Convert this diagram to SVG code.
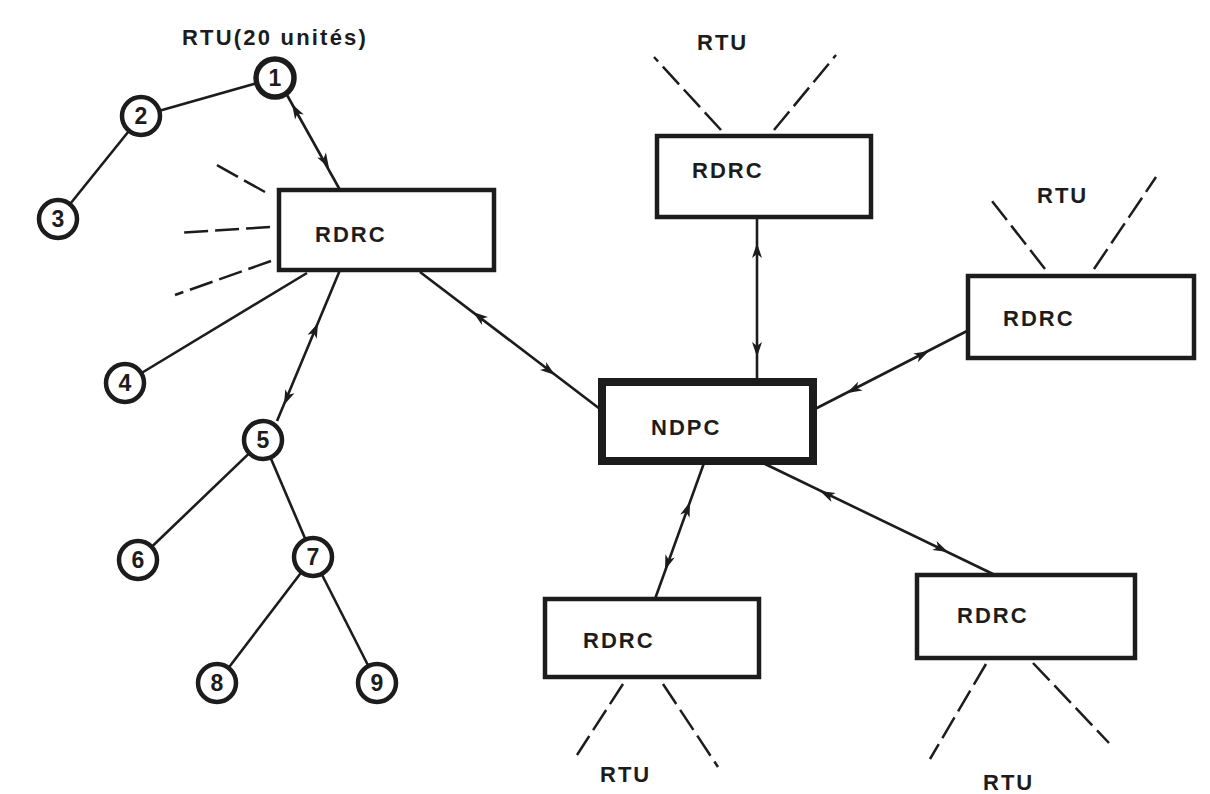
<svg xmlns="http://www.w3.org/2000/svg" xmlns:xlink="http://www.w3.org/1999/xlink" width="1210" height="794" viewBox="0 0 1210 794">
  <style>
    .box { fill: #fff; stroke: #1c1c1c; stroke-width: 4.5; }
    .hub { fill: #fff; stroke: #1c1c1c; stroke-width: 8; }
    .rtu { fill: #fff; stroke: #1c1c1c; stroke-width: 4.5; }
    .link { fill: none; stroke: #1c1c1c; stroke-width: 2.6; }
    .dash { fill: none; stroke: #1c1c1c; stroke-width: 2.5; stroke-dasharray: 24 7; }
    .lbl { font-family: "Liberation Sans", Arial, sans-serif; font-size: 22px; font-weight: bold; letter-spacing: 2px; fill: #1c1c1c; }
    .num { font-family: "Liberation Sans", Arial, sans-serif; font-size: 23px; font-weight: bold; fill: #1c1c1c; text-anchor: middle; }
  </style>
  <defs>
    <!-- slim arrowhead, tip at origin, pointing along +x -->
    <path id="ah" d="M0,0 L-15,-5 L-11,0 L-15,5 Z" fill="#1c1c1c"/>
  </defs>

  <rect x="0" y="0" width="1210" height="794" fill="#fff"/>

  <!-- connectors -->
  <g id="connectors">
    <!-- RTU chain of the left RDRC -->
    <line class="link" x1="275" y1="78" x2="141" y2="116"/>
    <line class="link" x1="141" y1="116" x2="58" y2="219"/>
    <line class="link" x1="307" y1="273" x2="125" y2="383"/>
    <line class="link" x1="263" y1="440" x2="138" y2="560"/>
    <line class="link" x1="263" y1="440" x2="313" y2="557"/>
    <line class="link" x1="313" y1="557" x2="217" y2="683"/>
    <line class="link" x1="313" y1="557" x2="377" y2="683"/>

    <!-- bidirectional links -->
    <line class="link" x1="287" y1="95" x2="340" y2="190"/>
    <use xlink:href="#ah" transform="translate(292,104) rotate(240.3)"/>
    <use xlink:href="#ah" transform="translate(329,168) rotate(60.3)"/>

    <line class="link" x1="340" y1="270" x2="277" y2="421"/>
    <use xlink:href="#ah" transform="translate(318,323) rotate(292.9)"/>
    <use xlink:href="#ah" transform="translate(284,405) rotate(112.9)"/>

    <line class="link" x1="420" y1="272" x2="600" y2="409"/>
    <use xlink:href="#ah" transform="translate(473,312) rotate(217.3)"/>
    <use xlink:href="#ah" transform="translate(555,375) rotate(37.3)"/>

    <line class="link" x1="757" y1="218" x2="757" y2="382"/>
    <use xlink:href="#ah" transform="translate(757,243) rotate(270)"/>
    <use xlink:href="#ah" transform="translate(757,357) rotate(90)"/>

    <line class="link" x1="815" y1="409" x2="967" y2="331"/>
    <use xlink:href="#ah" transform="translate(929,351) rotate(-27.3)"/>
    <use xlink:href="#ah" transform="translate(847,393) rotate(152.7)"/>

    <line class="link" x1="763" y1="463" x2="995" y2="575"/>
    <use xlink:href="#ah" transform="translate(820,491) rotate(205.4)"/>
    <use xlink:href="#ah" transform="translate(948,552) rotate(25.4)"/>

    <line class="link" x1="704" y1="463" x2="655" y2="599"/>
    <use xlink:href="#ah" transform="translate(690,502) rotate(290)"/>
    <use xlink:href="#ah" transform="translate(665,570) rotate(110)"/>

    <!-- dashed RTU feeders -->
    <line class="dash" x1="265" y1="192" x2="213" y2="163"/>
    <line class="dash" x1="270" y1="227" x2="178" y2="233"/>
    <line class="dash" x1="271" y1="261" x2="175" y2="295"/>

    <line class="dash" x1="721" y1="130" x2="654" y2="57"/>
    <line class="dash" x1="774" y1="130" x2="836" y2="55"/>

    <line class="dash" x1="1045" y1="269" x2="992" y2="201"/>
    <line class="dash" x1="1094" y1="269" x2="1156" y2="177"/>

    <line class="dash" x1="623" y1="684" x2="577" y2="755"/>
    <line class="dash" x1="663" y1="684" x2="718" y2="767"/>

    <line class="dash" x1="986" y1="664" x2="930" y2="759"/>
    <line class="dash" x1="1033" y1="663" x2="1109" y2="743"/>
  </g>

  <!-- remote terminal units -->
  <text class="lbl" x="182" y="45" style="letter-spacing:2.2px">RTU(20 unités)</text>
  <g id="rtu1"><circle class="rtu" cx="275" cy="78" r="19" style="stroke-width:5.5"/><text class="num" x="275" y="86">1</text></g>
  <g id="rtu2"><circle class="rtu" cx="141" cy="116" r="19"/><text class="num" x="141" y="124">2</text></g>
  <g id="rtu3"><circle class="rtu" cx="58" cy="219" r="19"/><text class="num" x="58" y="227">3</text></g>
  <g id="rtu4"><circle class="rtu" cx="125" cy="383" r="19"/><text class="num" x="125" y="391">4</text></g>
  <g id="rtu5"><circle class="rtu" cx="263" cy="440" r="19"/><text class="num" x="263" y="448">5</text></g>
  <g id="rtu6"><circle class="rtu" cx="138" cy="560" r="19"/><text class="num" x="138" y="568">6</text></g>
  <g id="rtu7"><circle class="rtu" cx="313" cy="557" r="19"/><text class="num" x="313" y="565">7</text></g>
  <g id="rtu8"><circle class="rtu" cx="217" cy="683" r="19"/><text class="num" x="217" y="691">8</text></g>
  <g id="rtu9"><circle class="rtu" cx="377" cy="683" r="19"/><text class="num" x="377" y="691">9</text></g>

  <!-- regional concentrators -->
  <g id="rdrc-left"><rect class="box" x="279" y="190" width="215" height="80"/><text class="lbl" x="315" y="242">RDRC</text></g>
  <g id="rdrc-top"><rect class="box" x="657" y="136" width="214" height="81"/><text class="lbl" x="692" y="178">RDRC</text></g>
  <g id="rdrc-right"><rect class="box" x="968" y="276" width="226" height="82"/><text class="lbl" x="1003" y="326">RDRC</text></g>
  <g id="rdrc-bottom-left"><rect class="box" x="545" y="599" width="214" height="78"/><text class="lbl" x="583" y="648">RDRC</text></g>
  <g id="rdrc-bottom-right"><rect class="box" x="917" y="575" width="218" height="83"/><text class="lbl" x="957" y="623">RDRC</text></g>

  <!-- national centre -->
  <g id="ndpc"><rect class="hub" x="602" y="382" width="211" height="79"/><text class="lbl" x="651" y="435">NDPC</text></g>

  <!-- RTU group labels -->
  <text class="lbl" x="697" y="50">RTU</text>
  <text class="lbl" x="1037" y="203">RTU</text>
  <text class="lbl" x="600" y="782">RTU</text>
  <text class="lbl" x="983" y="790">RTU</text>
</svg>
